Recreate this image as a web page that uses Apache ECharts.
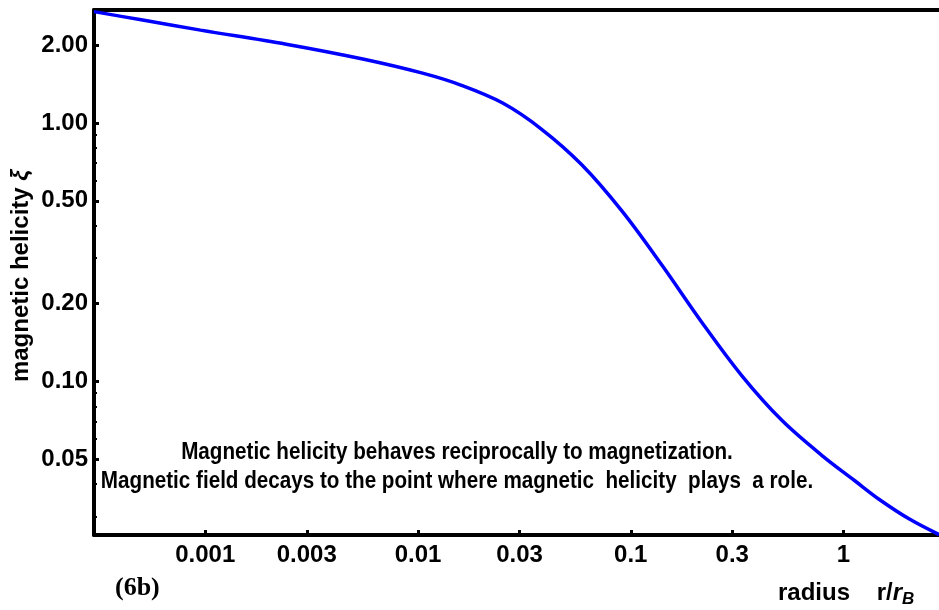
<!DOCTYPE html>
<html><head><meta charset="utf-8">
<script src="https://cdn.jsdelivr.net/npm/echarts@6/dist/echarts.min.js"></script>
<style>html,body{margin:0;padding:0;background:#fff}#c{width:939px;height:610px}</style>
</head><body><div id="c"></div>
<script>
// data
const radius   = [0.0003, 0.0005, 0.00095, 0.0024, 0.0055, 0.0105, 0.016, 0.025, 0.038, 0.059, 0.091, 0.14, 0.216, 0.333, 0.513, 0.79, 1.13, 1.485, 2.05, 2.81];
const helicity = [2.70, 2.51, 2.29, 2.02, 1.77, 1.56, 1.40, 1.195, 0.948, 0.688, 0.456, 0.282, 0.169, 0.105, 0.0706, 0.0517, 0.0412, 0.0347, 0.0292, 0.0255];
const xTicks = [0.001, 0.003, 0.01, 0.03, 0.1, 0.3, 1];
const xTickLabels = ['0.001', '0.003', '0.01', '0.03', '0.1', '0.3', '1'];
const yTicks = [0.05, 0.1, 0.2, 0.5, 1, 2];
const yTickLabels = ['0.05', '0.10', '0.20', '0.50', '1.00', '2.00'];
const yMinorTicks = [0.03, 0.04, 0.06, 0.07, 0.08, 0.09, 0.3, 0.4, 0.6, 0.7, 0.8, 0.9];
const annotationLines = ['Magnetic helicity behaves reciprocally to magnetization.',
  'Magnetic field decays to the point where magnetic  helicity  plays  a role.'];

const X_MIN = 0.0003, X_MAX = 2.81, Y_MIN = 0.0254, Y_MAX = 2.74;
const F = '"Liberation Sans", Arial, Helvetica, sans-serif';

function labelFor(v, ticks, labels) {
  for (let i = 0; i < ticks.length; i++) if (Math.abs(v / ticks[i] - 1) < 1e-6) return labels[i];
  return '';
}

const chart = echarts.init(document.getElementById('c'), null, {renderer: 'canvas'});
const lineStyle = {color: '#000', width: 4};
chart.setOption({
  animation: false,
  backgroundColor: '#fff',
  grid: {left: 94, right: 0, top: 10, bottom: 75, containLabel: false},
  xAxis: [{
    type: 'log', min: X_MIN, max: X_MAX, position: 'bottom',
    axisLine: {show: true, lineStyle: lineStyle},
    axisTick: {show: true, inside: true, length: 5, lineStyle: {color: '#000', width: 3}, customValues: xTicks},
    axisLabel: {show: true, customValues: xTicks, margin: 8, color: '#000', fontFamily: F, fontWeight: 'bold', fontSize: 24,
      formatter: v => labelFor(v, xTicks, xTickLabels)},
    splitLine: {show: false}, minorTick: {show: false}
  }, {
    type: 'log', min: X_MIN, max: X_MAX, position: 'top',
    axisLine: {show: true, onZero: false, lineStyle: lineStyle},
    axisTick: {show: false}, axisLabel: {show: false}, splitLine: {show: false}
  }],
  yAxis: [{
    type: 'log', min: Y_MIN, max: Y_MAX, position: 'left',
    axisLine: {show: true, lineStyle: lineStyle},
    axisTick: {show: true, inside: true, length: 5, lineStyle: {color: '#000', width: 3}, customValues: yTicks},
    axisLabel: {show: true, customValues: yTicks, margin: 6, color: '#000', fontFamily: F, fontWeight: 'bold', fontSize: 24,
      formatter: v => labelFor(v, yTicks, yTickLabels)},
    splitLine: {show: false}
  }, {
    type: 'log', min: Y_MIN, max: Y_MAX, position: 'left',
    axisLine: {show: false},
    axisTick: {show: true, inside: true, length: 3, lineStyle: {color: '#000', width: 2}, customValues: yMinorTicks},
    axisLabel: {show: false}, splitLine: {show: false}
  }],
  series: [{
    type: 'line', xAxisIndex: 0, yAxisIndex: 0,
    data: radius.map((r, i) => [r, helicity[i]]),
    smooth: 0.35, showSymbol: false, clip: true,
    lineStyle: {color: '#0000ff', width: 3.5}
  }],
  graphic: [
    {type: 'text', x: 21, y: 276, rotation: Math.PI / 2, style: {
      text: '{a|magnetic helicity }{b|ξ}', align: 'center', verticalAlign: 'middle',
      rich: {a: {fontFamily: F, fontWeight: 'bold', fontSize: 24, fill: '#000'},
             b: {fontFamily: F, fontStyle: 'italic', fontWeight: 'bold', fontSize: 24, fill: '#000'}}}},
    {type: 'text', x: 457, y: 452, scaleX: 0.86, style: {text: annotationLines[0], align: 'center', verticalAlign: 'middle',
      fontFamily: F, fontWeight: 'bold', fontSize: 24, fill: '#000'}},
    {type: 'text', x: 457, y: 481, scaleX: 0.86, style: {text: annotationLines[1], align: 'center', verticalAlign: 'middle',
      fontFamily: F, fontWeight: 'bold', fontSize: 24, fill: '#000'}},
    {type: 'text', x: 115, y: 588, style: {text: '(6b)', align: 'left', verticalAlign: 'middle',
      fontFamily: '"Liberation Serif", "Times New Roman", serif', fontWeight: 'bold', fontSize: 26, fill: '#000'}},
    {type: 'text', x: 778, y: 593, style: {text: '{a|radius    r/}{b|r}{s|B}', align: 'left', verticalAlign: 'middle',
      rich: {a: {fontFamily: F, fontWeight: 'bold', fontSize: 24, fill: '#000'},
             b: {fontFamily: F, fontWeight: 'bold', fontStyle: 'italic', fontSize: 24, fill: '#000'},
             s: {fontFamily: F, fontWeight: 'bold', fontStyle: 'italic', fontSize: 17, fill: '#000', padding: [12, 0, 0, 0]}}}}
  ]
});
</script></body></html>
